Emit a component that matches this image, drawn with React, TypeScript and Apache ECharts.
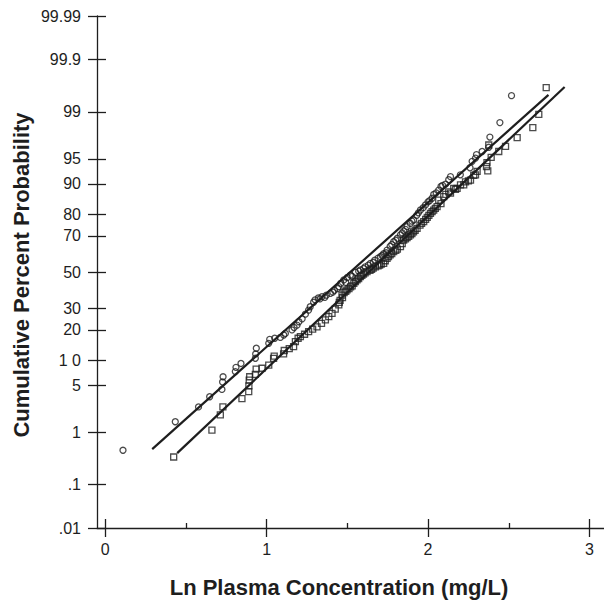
import React, { useEffect, useRef } from "react";
import * as echarts from "echarts";

// Probability-axis ticks (percent) and their printed labels
const yTickPercents = [0.01, 0.1, 1, 5, 10, 20, 30, 50, 70, 80, 90, 95, 99, 99.9, 99.99];
const yTickLabels = [".01", ".1", "1", "5", "1 0", "20", "30", "50", "70", "80", "90", "95", "99", "99.9", "99.99"];
const xMajorTicks = [0, 1, 2, 3];
const xMinorTicks = [0.5, 1.5, 2.5];

// Circles series: Ln concentration and cumulative percent
const circleX = [
  0.11, 0.434, 0.578, 0.647, 0.723, 0.727, 0.73, 0.806, 0.81, 0.841, 0.93, 0.932, 0.936, 1.013, 1.019, 1.05,
  1.085, 1.106, 1.116, 1.157, 1.17, 1.188, 1.2, 1.22, 1.24, 1.26, 1.27, 1.291, 1.3, 1.32, 1.343, 1.37, 1.395,
  1.42, 1.447, 1.46, 1.478, 1.5, 1.519, 1.55, 1.581, 1.61, 1.643, 1.67, 1.705, 1.725, 1.746, 1.765, 1.787,
  1.81, 1.829, 1.85, 1.87, 1.89, 1.911, 1.93, 1.953, 1.984, 2.0, 2.025, 2.035, 2.066, 2.08, 2.108, 2.128,
  2.139, 2.2, 2.26, 2.273, 2.294, 2.3, 2.335, 2.376, 2.383, 2.445, 2.517,
  1.33, 1.36, 1.41, 1.44, 1.49, 1.53, 1.57, 1.6, 1.63, 1.66, 1.69, 1.715, 1.74, 1.775, 1.8, 1.84, 1.86,
  1.9, 1.94, 1.97, 2.01, 2.05, 2.09,
];
const circleP = [
  0.48, 1.48, 2.5, 3.5, 4.4, 5.5, 6.4, 7.4, 8.3, 9.2, 10.5, 11.7, 13.4, 15.0, 16.4, 16.8,
  17.1, 18.0, 18.6, 20.0, 21.0, 22.0, 23.5, 24.8, 27.0, 29.0, 30.7, 33.0, 34.3, 35.3, 36.0, 36.8, 37.8,
  39.5, 41.6, 43.5, 45.4, 46.8, 48.2, 49.8, 51.2, 53.0, 55.0, 56.8, 58.8, 60.5, 62.5, 64.5, 67.0,
  68.8, 70.5, 72.5, 74.5, 76.0, 77.5, 79.5, 81.6, 83.5, 84.6, 85.8, 87.0, 88.3, 89.3, 89.9, 91.0,
  91.7, 92.1, 93.5, 94.6, 95.1, 95.6, 96.0, 96.5, 97.5, 98.5, 99.48,
  34.8, 35.6, 38.5, 40.5, 44.0, 47.5, 50.5, 52.0, 54.0, 55.5, 58.0, 59.5, 61.0, 65.5, 67.8, 71.5, 73.2,
  77.0, 80.5, 82.5, 85.0, 87.5, 89.6,
];

// Squares series
const squareX = [
  0.424, 0.661, 0.713, 0.729, 0.847, 0.889, 0.89, 0.892, 0.895, 0.93, 0.935, 0.971, 1.013, 1.043, 1.047,
  1.105, 1.109, 1.14, 1.167, 1.178, 1.195, 1.209, 1.235, 1.26, 1.285, 1.312, 1.34, 1.364, 1.385, 1.405,
  1.425, 1.447, 1.455, 1.467, 1.48, 1.498, 1.52, 1.54, 1.56, 1.581, 1.6, 1.622, 1.65, 1.674, 1.7, 1.725,
  1.746, 1.765, 1.787, 1.81, 1.829, 1.849, 1.87, 1.891, 1.91, 1.932, 1.95, 1.973, 1.995, 2.015, 2.035,
  2.056, 2.066, 2.08, 2.097, 2.128, 2.139, 2.159, 2.18, 2.201, 2.221, 2.232, 2.263, 2.283, 2.294, 2.304,
  2.362, 2.365, 2.37, 2.376, 2.391, 2.438, 2.48, 2.552, 2.649, 2.686, 2.732,
  1.45, 1.47, 1.49, 1.51, 1.53, 1.55, 1.57, 1.59, 1.61, 1.64, 1.66, 1.69, 1.71, 1.735, 1.755, 1.775,
  1.8, 1.84, 1.86, 1.88, 1.9, 1.92, 1.96, 1.985, 2.005, 2.025, 2.045, 2.11, 2.17, 2.25,
];
const squareP = [
  0.36, 1.08, 1.9, 2.5, 3.3, 4.1, 4.9, 5.8, 6.4, 6.85, 7.9, 8.1, 8.8, 10.5, 11.1,
  11.7, 12.7, 13.3, 13.9, 15.6, 16.8, 17.4, 18.3, 19.3, 20.3, 21.3, 22.8, 24.3, 25.8, 27.4,
  29.5, 31.6, 34.0, 36.9, 38.2, 39.7, 41.5, 43.5, 45.5, 47.3, 48.8, 50.2, 51.6, 53.0, 54.0, 55.0,
  57.9, 59.8, 61.6, 63.0, 64.4, 67.9, 69.2, 70.5, 72.0, 73.7, 75.2, 76.8, 78.6, 80.3, 81.6,
  82.9, 85.2, 84.0, 86.3, 87.8, 87.4, 88.8, 88.8, 89.7, 89.7, 90.5, 90.9, 92.0, 92.1, 92.8,
  93.7, 94.4, 92.9, 96.75, 95.2, 96.0, 96.6, 97.45, 98.2, 98.9, 99.63,
  33.0, 35.5, 39.0, 40.5, 42.0, 44.5, 46.2, 48.0, 49.5, 51.0, 52.3, 53.6, 54.5, 56.5, 58.8, 60.5,
  62.3, 66.0, 68.5, 69.8, 71.2, 72.8, 76.0, 77.8, 79.5, 81.0, 82.2, 87.0, 88.5, 90.7,
];

// Fitted lines: end points (Ln concentration, percent)
const circleLineX = [0.291, 2.746];
const circleLineP = [0.504, 99.496];
const squareLineX = [0.446, 2.846];
const squareLineP = [0.426, 99.64];

// inverse standard normal CDF (probability-paper scale)
function probit(pct: number): number {
  const p = pct / 100;
  const a = [-39.69683028665376, 220.9460984245205, -275.9285104469687, 138.357751867269, -30.66479806614716, 2.506628277459239];
  const b = [-54.47609879822406, 161.5858368580409, -155.6989798598866, 66.80131188771972, -13.28068155288572];
  const c = [-0.007784894002430293, -0.3223964580411365, -2.400758277161838, -2.549732539343734, 4.374664141464968, 2.938163982698783];
  const d = [0.007784695709041462, 0.3224671290700398, 2.445134137142996, 3.754408661907416];
  const pl = 0.02425;
  const ph = 1 - pl;
  if (p < pl) {
    const q = Math.sqrt(-2 * Math.log(p));
    return (((((c[0] * q + c[1]) * q + c[2]) * q + c[3]) * q + c[4]) * q + c[5]) / ((((d[0] * q + d[1]) * q + d[2]) * q + d[3]) * q + 1);
  }
  if (p <= ph) {
    const q = p - 0.5;
    const r = q * q;
    return ((((((a[0] * r + a[1]) * r + a[2]) * r + a[3]) * r + a[4]) * r + a[5]) * q) / (((((b[0] * r + b[1]) * r + b[2]) * r + b[3]) * r + b[4]) * r + 1);
  }
  const q = Math.sqrt(-2 * Math.log(1 - p));
  return -(((((c[0] * q + c[1]) * q + c[2]) * q + c[3]) * q + c[4]) * q + c[5]) / ((((d[0] * q + d[1]) * q + d[2]) * q + d[3]) * q + 1);
}

export default function App() {
  const ref = useRef<HTMLDivElement>(null);
  useEffect(() => {
    if (!ref.current) return;
    const chart = echarts.init(ref.current, undefined, { renderer: "svg" });
    const yTickZ = yTickPercents.map(probit);
    const yMin = probit(0.01);
    const yMax = probit(99.99);
    const xMin = -0.051;
    const xMax = 3.09;
    const ink = "#1e1e1e";
    const font = "Arial, 'Liberation Sans', sans-serif";
    const lineStyle = { color: ink, width: 1.3 };
    const labelFor = (v: number) => {
      for (let i = 0; i < yTickZ.length; i++) {
        if (Math.abs(yTickZ[i] - v) < 1e-6) return yTickLabels[i];
      }
      return "";
    };
    const mk = (xs: number[], ps: number[]) => xs.map((x, i) => [x, probit(ps[i])]);
    const hiddenLine = { show: false, onZero: false };

    chart.setOption({
      animation: false,
      backgroundColor: "#ffffff",
      grid: { left: 97, right: 0, top: 16, bottom: 74, containLabel: false },
      xAxis: [
        {
          type: "value", min: xMin, max: xMax, position: "bottom",
          axisLine: { show: true, onZero: false, lineStyle },
          axisTick: { show: true, customValues: xMajorTicks, length: 9, inside: false, lineStyle },
          axisLabel: { customValues: xMajorTicks, margin: 13, fontSize: 16, color: ink, fontFamily: font },
          splitLine: { show: false },
        },
        {
          type: "value", min: xMin, max: xMax, position: "bottom",
          axisLine: hiddenLine,
          axisTick: { show: true, customValues: xMajorTicks, length: 9, inside: true, lineStyle },
          axisLabel: { show: false },
          splitLine: { show: false },
        },
        {
          type: "value", min: xMin, max: xMax, position: "bottom",
          axisLine: hiddenLine,
          axisTick: { show: true, customValues: xMinorTicks, length: 5, inside: true, lineStyle },
          axisLabel: { show: false },
          splitLine: { show: false },
        },
      ],
      yAxis: [
        {
          type: "value", min: yMin, max: yMax, position: "left",
          axisLine: { show: true, onZero: false, lineStyle },
          axisTick: { show: true, customValues: yTickZ, length: 9, inside: false, lineStyle },
          axisLabel: { customValues: yTickZ, formatter: labelFor, margin: 16, fontSize: 16, color: ink, fontFamily: font },
          splitLine: { show: false },
        },
        {
          type: "value", min: yMin, max: yMax, position: "left",
          axisLine: hiddenLine,
          axisTick: { show: true, customValues: yTickZ, length: 9, inside: true, lineStyle },
          axisLabel: { show: false },
          splitLine: { show: false },
        },
      ],
      series: [
        {
          type: "line", data: mk(circleLineX, circleLineP), showSymbol: false, symbol: "none",
          lineStyle: { color: ink, width: 2.2 }, z: 2,
        },
        {
          type: "line", data: mk(squareLineX, squareLineP), showSymbol: false, symbol: "none",
          lineStyle: { color: ink, width: 2.2 }, z: 2,
        },
        {
          type: "scatter", data: mk(circleX, circleP), symbol: "circle", symbolSize: 6,
          itemStyle: { color: "rgba(255,255,255,0)", borderColor: ink, borderWidth: 1.3 }, z: 3,
        },
        {
          type: "scatter", data: mk(squareX, squareP), symbol: "rect", symbolSize: 6,
          itemStyle: { color: "rgba(255,255,255,0)", borderColor: ink, borderWidth: 1.3 }, z: 3,
        },
      ],
      graphic: [
        {
          type: "text", x: 21, y: 275, rotation: Math.PI / 2,
          style: { text: "Cumulative Percent Probability", font: `bold 22px ${font}`, fill: ink, textAlign: "center", textVerticalAlign: "middle" },
        },
        {
          type: "text", x: 339, y: 587,
          style: { text: "Ln Plasma Concentration (mg/L)", font: `bold 22px ${font}`, fill: ink, textAlign: "center", textVerticalAlign: "middle" },
        },
      ],
    });
    return () => chart.dispose();
  }, []);
  return <div ref={ref} style={{ position: "fixed", left: 0, top: 0, width: 604, height: 602 }} />;
}
